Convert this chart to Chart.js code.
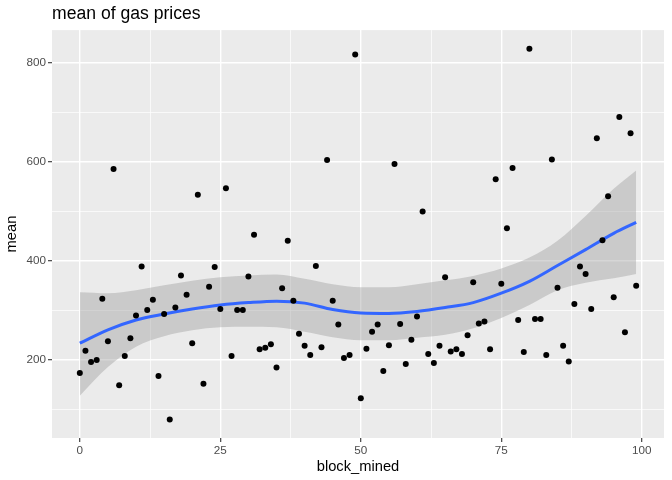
<!DOCTYPE html>
<html>
<head>
<meta charset="utf-8">
<script src="https://cdn.jsdelivr.net/npm/chart.js@4.4.0/dist/chart.umd.min.js"></script>
<style>
  html, body { margin: 0; padding: 0; background: #ffffff; }
  #wrap { width: 672px; height: 480px; }
</style>
</head>
<body>
<div id="wrap"><canvas id="chart"></canvas></div>
<script>
// block number for every point
const blockMined = [
  0, 1, 2, 3, 4, 5, 6, 7, 8, 9,
  10, 11, 12, 13, 14, 15, 16, 17, 18, 19,
  20, 21, 22, 23, 24, 25, 26, 27, 28, 29,
  30, 31, 32, 33, 34, 35, 36, 37, 38, 39,
  40, 41, 42, 43, 44, 45, 46, 47, 48, 49,
  50, 51, 52, 53, 54, 55, 56, 57, 58, 59,
  60, 61, 62, 63, 64, 65, 66, 67, 68, 69,
  70, 71, 72, 73, 74, 75, 76, 77, 78, 79,
  80, 81, 82, 83, 84, 85, 86, 87, 88, 89,
  90, 91, 92, 93, 94, 95, 96, 97, 98, 99
];

// mean gas price for each block
const meanPrice = [
  173, 218, 195, 199, 323, 237, 585, 148, 207, 243,
  289, 388, 300, 321, 167, 292, 79, 305, 370, 331,
  233, 533, 151, 347, 387, 302, 546, 207, 300, 300,
  368, 452, 221, 224, 231, 184, 344, 440, 319, 252,
  228, 209, 389, 225, 603, 319, 271, 203, 209, 816,
  122, 222, 256, 271, 177, 229, 595, 272, 191, 240,
  287, 499, 211, 193, 228, 366, 216, 221, 211, 249,
  356, 273, 277, 221, 564, 353, 465, 587, 280, 215,
  828, 282, 282, 209, 604, 345, 228, 196, 312, 388,
  373, 302, 647, 441, 530, 326, 690, 255, 657, 349
];

// smoother (loess), with its confidence band
const smoothX     = [0, 5, 10, 15, 20, 25, 30, 35, 40, 45, 50, 55, 60, 65, 70, 75, 80, 85, 90, 95, 99];
const smoothY     = [233, 260, 280, 292, 302, 310, 315, 318, 314, 301, 294, 293, 297, 305, 315, 334, 358, 390, 422, 455, 477];
const smoothUpper = [336, 334, 340, 350, 359, 366, 370, 372, 363, 352, 346, 346, 352, 360, 369, 384, 406, 440, 490, 545, 582];
const smoothLower = [127, 185, 226, 247, 259, 265, 266, 265, 256, 245, 239, 239, 244, 250, 263, 284, 310, 340, 355, 364, 373];

// axis ticks
const xMajor = [0, 25, 50, 75, 100];
const xMinor = [12.5, 37.5, 62.5, 87.5];
const yMajor = [200, 400, 600, 800];
const yMinor = [100, 300, 500, 700];

const FONT = "'Liberation Sans', Arial, sans-serif";

const toXY = (xs, ys) => xs.map((x, i) => ({ x: x, y: ys[i] }));

// grey panel behind the grid, like ggplot
const panelBg = {
  id: 'panelBg',
  beforeDraw(chart) {
    const { ctx, chartArea: a } = chart;
    ctx.save();
    ctx.fillStyle = '#EBEBEB';
    ctx.fillRect(a.left, a.top, a.right - a.left, a.bottom - a.top);
    ctx.restore();
  }
};

function gridFor(major) {
  return {
    color: '#FFFFFF',
    lineWidth: c => major.includes(c.tick.value) ? 1.4 : 0.7,
    drawTicks: true,
    tickLength: 4,
    tickColor: c => major.includes(c.tick.value) ? '#333333' : 'rgba(0,0,0,0)',
    tickWidth: 1.1
  };
}

new Chart(document.getElementById('chart'), {
  type: 'scatter',
  data: {
    datasets: [
      {
        type: 'line',
        label: 'smooth',
        data: toXY(smoothX, smoothY),
        borderColor: '#3366FF',
        borderWidth: 3,
        pointRadius: 0,
        cubicInterpolationMode: 'monotone',
        fill: false,
        order: 1
      },
      {
        type: 'line',
        label: 'upper',
        data: toXY(smoothX, smoothUpper),
        borderWidth: 0,
        borderColor: 'rgba(0,0,0,0)',
        pointRadius: 0,
        cubicInterpolationMode: 'monotone',
        backgroundColor: 'rgba(153,153,153,0.4)',
        fill: 2,
        order: 2
      },
      {
        type: 'line',
        label: 'lower',
        data: toXY(smoothX, smoothLower),
        borderWidth: 0,
        borderColor: 'rgba(0,0,0,0)',
        pointRadius: 0,
        cubicInterpolationMode: 'monotone',
        fill: false,
        order: 2
      },
      {
        // points sit on top of the smoother
        label: 'mean',
        data: toXY(blockMined, meanPrice),
        backgroundColor: '#000000',
        borderWidth: 0,
        pointRadius: 3,
        order: 0
      }
    ]
  },
  options: {
    responsive: true,
    maintainAspectRatio: false,
    animation: false,
    layout: { padding: { left: 0, right: 8, top: 0, bottom: 0 } },
    plugins: {
      legend: { display: false },
      tooltip: { enabled: false },
      title: {
        display: true,
        text: 'mean of gas prices',
        align: 'start',
        fullSize: false,
        color: '#000000',
        font: { family: FONT, size: 17.6, weight: 'normal' },
        padding: { top: 4, bottom: 5 }
      }
    },
    scales: {
      x: {
        type: 'linear',
        min: -4.95,
        max: 103.95,
        afterBuildTicks: s => { s.ticks = [...xMajor, ...xMinor].sort((a, b) => a - b).map(v => ({ value: v })); },
        afterFit: s => { s.height = 42; },
        grid: gridFor(xMajor),
        border: { display: false },
        ticks: {
          autoSkip: false,
          maxRotation: 0,
          padding: 2,
          color: '#4D4D4D',
          font: { family: FONT, size: 11.7 },
          callback: v => xMajor.includes(v) ? String(v) : ''
        },
        title: {
          display: true,
          text: 'block_mined',
          color: '#000000',
          font: { family: FONT, size: 14.7 },
          padding: { top: 2, bottom: 4 }
        }
      },
      y: {
        type: 'linear',
        min: 41.5,
        max: 865.5,
        afterBuildTicks: s => { s.ticks = [...yMinor, ...yMajor].sort((a, b) => a - b).map(v => ({ value: v })); },
        afterFit: s => { s.width = 52; },
        grid: gridFor(yMajor),
        border: { display: false },
        ticks: {
          autoSkip: false,
          padding: 2,
          color: '#4D4D4D',
          font: { family: FONT, size: 11.7 },
          callback: v => yMajor.includes(v) ? String(v) : ''
        },
        title: {
          display: true,
          text: 'mean',
          color: '#000000',
          font: { family: FONT, size: 14.7 },
          padding: { top: 3, bottom: 2 }
        }
      }
    }
  },
  plugins: [panelBg]
});
</script>
</body>
</html>
